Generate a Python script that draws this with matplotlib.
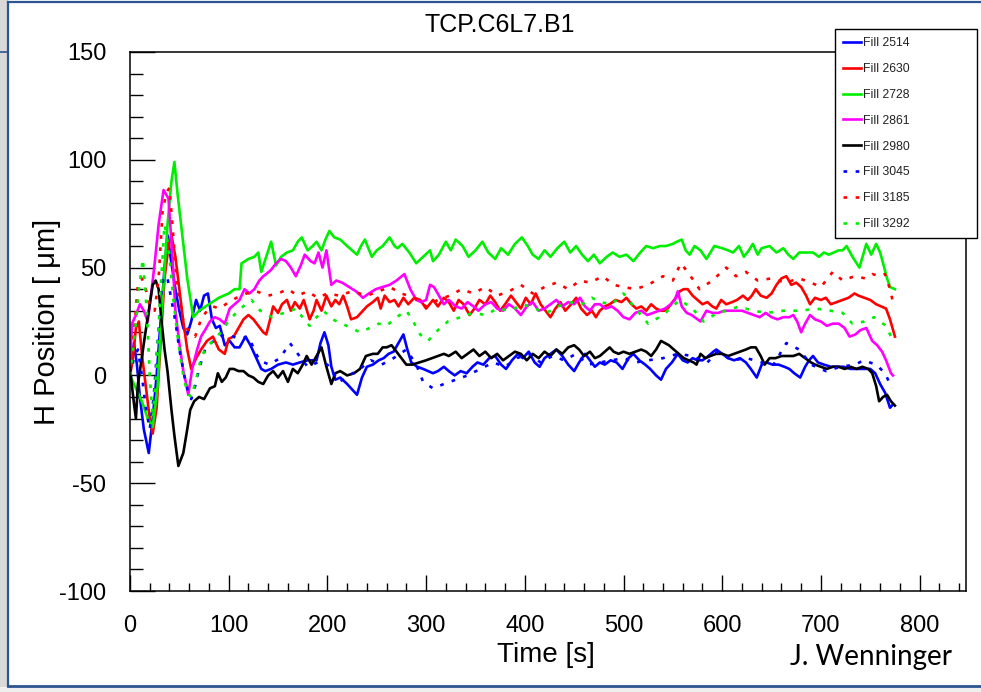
import matplotlib
matplotlib.use('Agg')
import matplotlib.pyplot as plt
from matplotlib.patches import Rectangle
from matplotlib.lines import Line2D
from matplotlib.ticker import MultipleLocator

plt.rcParams['font.family'] = ['Liberation Sans', 'DejaVu Sans']
plt.rcParams['axes.unicode_minus'] = False

# (time [s], H position [um])
fill_2514 = [(0,0),(4,15),(7,5),(10,-10),(14,-25),(19,-36),(23,-20),(27,0),(31,25),(35,50),(38,65),(42,52),
             (46,40),(50,30),(54,22),(58,19),(62,25),(67,35),(71,30),(75,37),(79,38),(83,26),(87,22),(91,23),
             (96,14),(101,16),(106,13),(111,13),(117,18),(122,14),(128,8),(133,3),(137,2),(143,3),(150,5),
             (158,6),(165,5),(172,6),(180,7),(189,7),(193,15),(197,20),(201,14),(204,4),(208,-2),(213,-1),
             (220,-4),(226,-7),(230,-9),(235,-1),(240,4),(246,5),(252,7),(257,8),(262,10),(267,11),(272,15),
             (277,19),(281,12),(285,6),(291,4),(297,3),(302,2),(307,1),(312,2),(318,4),(323,2),(329,0),(335,2),
             (341,1),(347,4),(352,6),(358,5),(364,8),(370,9),(376,5),(381,3),(387,7),(393,10),(398,8),(404,11),
             (410,6),(415,4),(420,8),(426,10),(432,12),(438,9),(444,5),(450,2),(455,6),(461,10),(466,7),(471,4),
             (476,6),(481,5),(487,7),(493,6),(499,3),(505,8),(510,10),(516,7),(522,5),(527,3),(533,0),(538,-2),
             (543,3),(549,6),(555,10),(560,7),(565,6),(570,8),(575,7),(580,7),(586,9),(591,11),(594,12),(600,10),
             (606,8),(612,7),(618,8),(624,6),(629,3),(635,-1),(640,5),(645,6),(651,5),(657,5),(663,4),(668,3),
             (673,1),(679,-1),(684,4),(688,7),(692,9),(697,6),(703,5),(710,4),(716,4),(723,4),(730,3),(737,3),
             (744,3),(750,3),(755,1),(760,-4),(765,-8),(770,-15),(772,-14)]

fill_2630 = [(0,0),(3,8),(6,22),(9,25),(12,10),(16,-5),(20,-20),(23,-27),(27,-15),(31,15),(35,45),(39,60),
             (42,65),(46,55),(50,40),(54,25),(58,12),(62,3),(67,8),(72,12),(78,16),(84,18),(90,12),(96,10),
             (100,17),(105,18),(110,22),(115,26),(120,28),(125,26),(130,23),(135,20),(138,19),(142,26),(145,32),
             (150,29),(154,33),(159,35),(163,30),(167,34),(172,31),(176,35),(182,26),(186,30),(189,35),(194,30),
             (199,37),(204,32),(208,35),(212,33),(216,37),(220,32),(224,26),(230,27),(236,30),(240,32),(246,34),
             (251,36),(254,31),(258,37),(263,34),(268,35),(272,32),(277,36),(282,33),(288,36),(294,35),(300,31),
             (307,35),(312,32),(318,36),(323,34),(328,30),(333,35),(338,33),(344,28),(349,31),(354,35),(360,33),
             (365,37),(370,34),(375,30),(380,33),(386,37),(391,34),(396,31),(401,36),(406,33),(411,38),(416,33),
             (421,30),(426,27),(431,31),(436,34),(441,30),(447,33),(452,36),(457,31),(463,28),(468,30),(472,27),
             (476,30),(481,32),(486,33),(492,35),(498,34),(503,36),(508,33),(513,31),(518,32),(523,30),(528,33),
             (533,31),(538,30),(543,30),(548,33),(553,36),(557,39),(561,40),(565,40),(570,37),(575,35),(580,33),
             (585,34),(590,32),(594,31),(599,35),(604,33),(610,34),(615,35),(621,37),(626,35),(630,37),(634,40),
             (639,37),(645,36),(650,38),(655,42),(660,45),(665,46),(670,42),(675,43),(680,41),(685,37),(689,33),
             (694,36),(700,35),(705,36),(710,33),(716,34),(722,35),(728,36),(734,38),(738,37),(744,36),(750,35),
             (756,33),(761,32),(766,31),(770,26),(775,18)]

fill_2728 = [(0,0),(5,-5),(12,-12),(18,-20),(23,-24),(28,-5),(33,35),(38,70),(42,90),(45,99),(48,85),(53,65),
             (58,45),(64,27),(70,30),(80,33),(90,36),(100,38),(106,40),(111,40),(113,52),(120,54),(126,55),
             (130,57),(133,48),(138,55),(143,62),(148,51),(153,55),(159,57),(165,58),(170,62),(174,64),(180,58),
             (185,60),(189,62),(194,58),(198,63),(202,67),(207,64),(213,63),(220,60),(225,58),(230,56),(234,60),
             (238,63),(245,55),(250,58),(256,60),(263,64),(268,60),(271,59),(276,61),(283,57),(290,52),(297,55),
             (304,58),(307,53),(313,56),(320,62),(325,58),(330,63),(337,60),(343,55),(350,58),(357,62),(363,57),
             (370,54),(376,59),(383,56),(390,61),(397,64),(403,60),(408,56),(414,54),(420,58),(426,55),(433,59),
             (440,62),(446,57),(452,60),(458,56),(464,53),(470,56),(476,52),(483,55),(489,57),(496,55),(503,56),
             (510,53),(517,57),(523,60),(530,59),(537,60),(543,60),(550,61),(554,62),(559,63),(563,58),(567,56),
             (572,60),(578,58),(584,54),(588,57),(592,60),(600,59),(606,58),(611,57),(617,60),(622,55),(627,58),
             (631,61),(636,56),(640,59),(648,60),(655,57),(662,59),(667,56),(672,54),(678,57),(685,57),(692,57),
             (698,55),(703,57),(708,56),(713,57),(718,58),(722,58),(726,60),(732,55),(739,50),(746,61),(751,56),
             (756,61),(760,57),(763,52),(767,45),(770,41),(775,40)]

fill_2861 = [(0,5),(2,24),(6,28),(10,33),(14,30),(18,25),(22,40),(25,52),(29,70),(34,86),(39,82),(43,55),
             (46,30),(50,15),(54,2),(57,-4),(59,-9),(63,3),(68,12),(72,18),(76,21),(81,25),(86,27),(91,26),
             (96,24),(101,31),(106,33),(111,35),(116,40),(121,38),(126,40),(131,44),(135,46),(138,47),(143,49),
             (148,52),(153,54),(158,53),(163,50),(168,46),(173,51),(177,56),(183,53),(187,52),(191,57),(195,50),
             (199,58),(204,42),(209,44),(215,43),(222,41),(229,39),(236,36),(242,38),(249,40),(256,41),(263,42),
             (270,44),(278,47),(284,40),(290,35),(295,34),(300,35),(304,42),(308,41),(313,37),(318,33),(323,35),
             (330,32),(336,31),(342,34),(348,32),(353,30),(360,33),(366,34),(372,31),(378,30),(384,33),(390,31),
             (396,28),(402,32),(408,34),(414,30),(420,31),(426,33),(432,35),(438,32),(444,34),(450,33),(456,36),
             (461,32),(466,30),(471,33),(476,33),(482,31),(488,32),(494,30),(500,27),(506,26),(512,29),(518,30),
             (524,28),(530,29),(536,30),(542,31),(548,33),(552,35),(555,39),(559,32),(564,29),(569,28),(575,26),
             (578,25),(584,30),(590,29),(596,29),(602,30),(608,30),(614,30),(620,30),(626,29),(632,28),(638,27),
             (644,29),(650,27),(656,26),(662,27),(668,27),(672,28),(676,25),(680,20),(684,24),(689,28),(694,26),
             (700,25),(706,23),(712,24),(718,24),(724,22),(729,18),(735,19),(740,21),(746,22),(752,16),(757,14),
             (762,11),(766,7),(771,1),(773,0)]

fill_2980 = [(0,4),(2,-5),(4,-13),(6,-20),(8,-4),(11,5),(15,18),(19,30),(23,42),(26,44),(29,40),(32,25),
             (35,12),(38,2),(42,-16),(45,-28),(49,-42),(54,-36),(58,-25),(61,-16),(65,-12),(70,-10),(75,-11),
             (81,-6),(86,-5),(89,1),(93,-3),(97,-1),(101,3),(105,3),(110,2),(115,2),(120,0),(125,-1),(130,-3),
             (135,-4),(140,0),(145,2),(150,-1),(155,2),(160,-3),(165,3),(170,1),(175,5),(179,9),(184,5),(189,9),
             (194,13),(199,4),(204,-4),(208,1),(213,2),(220,0),(227,1),(233,3),(239,9),(246,10),(251,10),(256,13),
             (260,13),(265,14),(270,11),(275,8),(280,5),(286,5),(293,6),(300,7),(306,8),(312,9),(318,10),(323,9),
             (330,11),(336,8),(342,10),(348,12),(354,9),(360,11),(366,8),(372,10),(378,7),(384,9),(390,11),
             (396,10),(402,7),(408,10),(414,8),(420,11),(426,9),(432,12),(438,10),(444,13),(450,14),(455,12),
             (460,9),(466,11),(471,8),(476,9),(481,11),(486,13),(490,11),(495,10),(500,11),(506,10),(512,11),
             (518,12),(523,11),(528,9),(533,12),(538,16),(542,15),(546,14),(551,12),(556,10),(561,8),(566,7),
             (571,6),(574,5),(578,10),(583,8),(588,9),(594,10),(600,10),(606,9),(612,10),(618,11),(624,12),
             (629,13),(634,13),(639,9),(643,5),(648,8),(654,8),(660,9),(666,9),(672,9),(678,10),(684,8),(690,6),
             (694,5),(700,4),(706,3),(712,4),(718,4),(724,3),(730,4),(736,3),(742,4),(748,3),(752,1),(756,-5),
             (759,-12),(763,-10),(767,-9),(771,-12),(775,-14)]

fill_3045 = [(0,0),(4,8),(8,12),(12,0),(16,-15),(20,-25),(24,-10),(28,15),(31,35),(34,46),(38,45),(42,35),
             (46,25),(50,12),(55,0),(59,-8),(62,-11),(66,-5),(70,3),(76,12),(82,15),(88,17),(95,19),(104,18),
             (112,17),(120,18),(131,7),(141,5),(152,8),(162,15),(170,10),(180,4),(190,6),(200,5),(212,-3),
             (222,0),(233,3),(244,7),(255,5),(267,8),(280,12),(290,5),(297,-3),(307,-6),(318,-4),(330,-2),
             (342,0),(355,3),(368,6),(380,4),(392,8),(404,10),(416,6),(428,9),(440,7),(452,10),(464,5),(476,6),
             (488,7),(500,8),(512,6),(525,7),(540,8),(555,10),(570,9),(585,6),(595,11),(610,7),(625,8),(640,6),
             (652,5),(665,15),(678,12),(690,5),(705,2),(720,4),(735,5),(743,7),(756,5),(765,1),(772,-6)]

fill_3185 = [(0,0),(4,20),(8,42),(12,45),(16,40),(20,32),(25,30),(29,45),(33,76),(37,85),(40,87),(43,70),
             (47,45),(52,28),(57,22),(62,20),(66,18),(72,26),(78,30),(84,32),(91,31),(100,34),(108,36),(118,38),
             (128,39),(140,37),(150,38),(160,40),(170,37),(180,39),(190,36),(200,38),(212,37),(225,39),(240,37),
             (252,39),(263,41),(275,38),(288,36),(300,32),(312,35),(324,37),(336,40),(348,38),(360,41),(372,37),
             (384,39),(396,42),(408,38),(420,41),(432,43),(444,40),(456,44),(466,43),(479,46),(490,42),(500,41),
             (512,40),(525,42),(540,46),(550,44),(558,52),(565,48),(577,40),(590,44),(604,50),(614,46),(624,48),
             (636,44),(650,45),(664,43),(678,45),(690,43),(700,41),(712,48),(722,44),(734,46),(745,45),(752,47),
             (760,46),(765,47),(770,40),(773,34)]

fill_3292 = [(0,0),(5,20),(9,40),(13,54),(17,30),(20,0),(23,-20),(27,5),(31,40),(35,70),(39,60),(44,35),
             (49,15),(54,0),(58,-8),(62,-10),(67,-2),(72,8),(76,12),(84,16),(92,20),(101,26),(110,30),(117,33),
             (123,35),(132,30),(144,27),(156,29),(169,31),(176,26),(182,23),(189,27),(196,30),(205,26),(215,24),
             (224,22),(233,20),(243,22),(252,24),(260,23),(270,27),(280,30),(287,25),(294,19),(302,16),(312,21),
             (322,25),(335,27),(348,29),(360,28),(372,31),(385,30),(398,33),(410,31),(422,29),(434,32),(446,34),
             (458,33),(468,36),(476,34),(488,33),(500,38),(512,31),(525,24),(540,28),(557,35),(570,31),(581,25),
             (595,29),(605,30),(617,32),(631,30),(645,29),(662,30),(680,30),(695,31),(710,30),(722,29),(732,24),
             (744,25),(754,27),(766,23),(773,16)]

labels = ['Fill 2514', 'Fill 2630', 'Fill 2728', 'Fill 2861', 'Fill 2980', 'Fill 3045', 'Fill 3185', 'Fill 3292']
series = [fill_2514, fill_2630, fill_2728, fill_2861, fill_2980, fill_3045, fill_3185, fill_3292]
colors = ['#0000ff', '#ff0000', '#00ee00', '#ff00ff', '#000000', '#0000ff', '#ff0000', '#00ee00']
dashed = [False, False, False, False, False, True, True, True]

W, H = 981, 692
fig = plt.figure(figsize=(W / 100, H / 100), dpi=100)
fig.patch.set_facecolor('white')

# slide frame around the picture
fig.patches.append(Rectangle((0, 0), 7 / W, 1, transform=fig.transFigure, color='#d9d9d9', zorder=0))
fig.patches.append(Rectangle((0, 0), 1, 5 / H, transform=fig.transFigure, color='#efefef', zorder=0))
frame_c = '#2c5491'
fig.lines.append(Line2D([7.5 / W, 1], [1 - 2 / H, 1 - 2 / H], transform=fig.transFigure, color=frame_c, lw=1.6))
fig.lines.append(Line2D([7.5 / W, 7.5 / W], [1 - 2 / H, 1 - 686 / H], transform=fig.transFigure, color=frame_c, lw=1.6))
fig.lines.append(Line2D([7.5 / W, 1], [1 - 686 / H, 1 - 686 / H], transform=fig.transFigure, color=frame_c, lw=2))
fig.lines.append(Line2D([0, 7 / W], [1 - 52 / H, 1 - 52 / H], transform=fig.transFigure, color=frame_c, lw=1.2))

ax = fig.add_axes([130 / W, 1 - 591 / H, (966 - 130) / W, (591 - 52) / H])

for data, lab, col, dsh in zip(series, labels, colors, dashed):
    t = [p[0] for p in data]
    v = [p[1] for p in data]
    if dsh:
        ax.plot(t, v, color=col, lw=1.9, dashes=(1.4, 3.2), label=lab)
    else:
        ax.plot(t, v, color=col, lw=1.9, label=lab)

ax.set_xlim(0, 847)
ax.set_ylim(-100, 150)
ax.xaxis.set_major_locator(MultipleLocator(100))
ax.xaxis.set_minor_locator(MultipleLocator(20))
ax.yaxis.set_major_locator(MultipleLocator(50))
ax.yaxis.set_minor_locator(MultipleLocator(10))
ax.tick_params(axis='both', which='both', direction='in', top=False, right=False, width=1, labelsize=17)
ax.tick_params(axis='x', which='major', length=11.5, pad=17)
ax.tick_params(axis='x', which='minor', length=5.8)
ax.tick_params(axis='y', which='major', length=18, pad=17)
ax.tick_params(axis='y', which='minor', length=9)
for s in ax.spines.values():
    s.set_linewidth(1.1)

leg = ax.legend(loc='upper left', bbox_to_anchor=(835 / W, 1 - 235 / H, 142 / W, 206 / H),
                bbox_transform=fig.transFigure, mode='expand', fontsize=8.8, frameon=True, fancybox=False,
                edgecolor='black', framealpha=1, handlelength=1.45, handletextpad=0.2, labelspacing=1.13,
                borderpad=0.68, borderaxespad=0)
leg.get_frame().set_linewidth(1.0)
for txt in leg.get_texts():
    txt.set_color('#222222')

fig.text(500 / W, 1 - 25 / H, 'TCP.C6L7.B1', fontsize=18, ha='center', va='center')
fig.text(546 / W, 1 - 655 / H, 'Time [s]', fontsize=20, ha='center', va='center')
fig.text(47.5 / W, 1 - 322 / H, 'H Position [ \u03bcm]', fontsize=21, rotation=90, ha='center', va='center')
fig.text(871 / W, 1 - 657 / H, 'J. Wenninger', fontsize=20, ha='center', va='center', family=['Lato', 'DejaVu Sans'])

fig.savefig('out.png', dpi=100)
